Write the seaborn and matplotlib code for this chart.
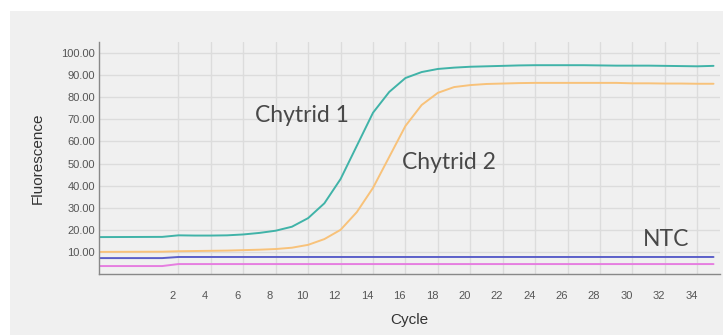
import pandas as pd
import seaborn as sns
import matplotlib.pyplot as plt
from matplotlib.patches import Rectangle
from matplotlib.transforms import ScaledTranslation

# qPCR amplification curves
cycles = [-3] + list(range(1, 36))

chytrid1 = [16.7, 16.8, 17.5, 17.4, 17.4, 17.5, 17.9, 18.6, 19.6, 21.4,
            25.3, 32.0, 43.0, 58.0, 73.0, 82.4, 88.7, 91.4, 92.8, 93.4,
            93.8, 94.0, 94.2, 94.4, 94.5, 94.5, 94.5, 94.5, 94.4, 94.3,
            94.3, 94.3, 94.2, 94.1, 94.0, 94.2]
chytrid2 = [10.0, 10.1, 10.3, 10.4, 10.5, 10.6, 10.8, 11.0, 11.3, 11.9,
            13.2, 15.8, 20.0, 28.0, 39.0, 53.0, 67.0, 76.5, 82.0, 84.6,
            85.5, 86.0, 86.2, 86.4, 86.5, 86.5, 86.5, 86.5, 86.5, 86.5,
            86.3, 86.3, 86.2, 86.2, 86.1, 86.1]
ntc_a = [7.2, 7.2] + [7.7] * 34
ntc_b = [3.6, 3.6] + [4.5] * 34

series = {'Chytrid 1': chytrid1, 'Chytrid 2': chytrid2, 'NTC A': ntc_a, 'NTC B': ntc_b}
colors = {'Chytrid 1': '#40b3a8', 'Chytrid 2': '#f8c27a', 'NTC A': '#5b5fc9', 'NTC B': '#e67ee0'}

df = pd.concat([pd.DataFrame({'cycle': cycles, 'value': v, 'sample': k}) for k, v in series.items()])

sns.set_theme(style="whitegrid")
plt.rcParams['font.family'] = ['Liberation Sans', 'DejaVu Sans']

fig = plt.figure(figsize=(7.23, 3.35), dpi=100)
fig.patch.set_facecolor('white')
fig.patches.append(Rectangle((10 / 723, 0), 1, 1 - 11 / 335, transform=fig.transFigure,
                             facecolor='#f0f0f0', edgecolor='none', zorder=-10))
ax = fig.add_axes([99 / 723, 1 - 274 / 335, 621 / 723, 232 / 335])
ax.set_facecolor('#f0f0f0')

sns.lineplot(data=df, x='cycle', y='value', hue='sample', palette=colors,
             linewidth=1.4, legend=False, ax=ax)

ax.set_xlim(-2.9, 35.4)
ax.set_ylim(0, 105)
ax.set_xticks(range(2, 35, 2))
ax.set_yticks(range(10, 101, 10))
ax.set_yticklabels([f'{v:.2f}' for v in range(10, 101, 10)])
ax.tick_params(axis='both', length=0, labelsize=8, labelcolor='#555555', pad=3)
ax.tick_params(axis='x', pad=12)
offset = ScaledTranslation(-6 / 100, 0, fig.dpi_scale_trans)
for lab in ax.get_xticklabels():
    lab.set_transform(lab.get_transform() + offset)

ax.grid(True, color='#dcdcdc', linewidth=1)
for side in ['top', 'right']:
    ax.spines[side].set_visible(False)
for side in ['left', 'bottom']:
    ax.spines[side].set_color('#888888')
    ax.spines[side].set_linewidth(1)

ax.set_xlabel('Cycle', fontsize=11, color='#333333', labelpad=9)
ax.set_ylabel('Fluorescence', fontsize=11, color='#333333', labelpad=12)

label_font = dict(family='Lato', fontsize=16.5, color='#484848', ha='center', va='center')
ax.text(9.6, 71.8, 'Chytrid 1', **label_font)
ax.text(18.7, 50.5, 'Chytrid 2', **label_font)
ax.text(32.1, 15.5, 'NTC', **label_font)

plt.savefig('out.png', dpi=100)
